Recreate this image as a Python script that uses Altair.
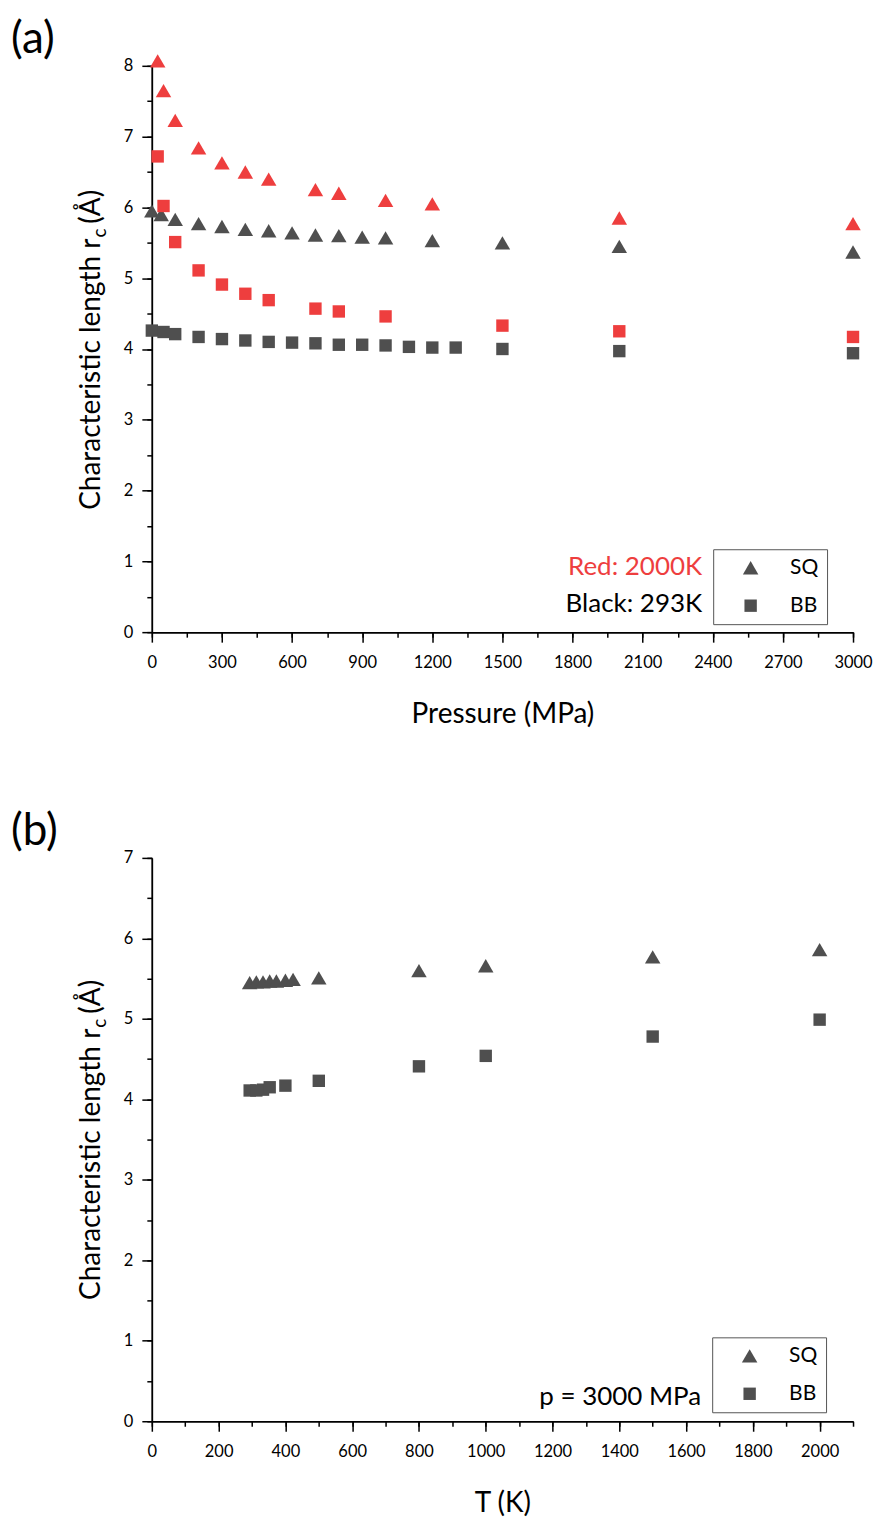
import altair as alt
import pandas as pd

# ---------------- data: panel (a)  (x = pressure, MPa) ----------------
p_sq_293 = [0, 40, 100, 200, 300, 400, 500, 600, 700, 800, 900, 1000, 1200, 1500, 2000, 3000]
rc_sq_293 = [5.95, 5.90, 5.83, 5.77, 5.73, 5.69, 5.67, 5.64, 5.61, 5.60, 5.58, 5.57, 5.53, 5.50, 5.45, 5.37]
p_bb_293 = [0, 50, 100, 200, 300, 400, 500, 600, 700, 800, 900, 1000, 1100, 1200, 1300, 1500, 2000, 3000]
rc_bb_293 = [4.26, 4.24, 4.21, 4.17, 4.14, 4.12, 4.10, 4.09, 4.08, 4.06, 4.06, 4.05, 4.03, 4.02, 4.02, 4.00, 3.97, 3.94]
p_sq_2000 = [25, 50, 100, 200, 300, 400, 500, 700, 800, 1000, 1200, 2000, 3000]
rc_sq_2000 = [8.07, 7.65, 7.23, 6.84, 6.63, 6.50, 6.40, 6.25, 6.20, 6.10, 6.05, 5.85, 5.77]
p_bb_2000 = [25, 50, 100, 200, 300, 400, 500, 700, 800, 1000, 1500, 2000, 3000]
rc_bb_2000 = [6.72, 6.02, 5.51, 5.11, 4.91, 4.78, 4.69, 4.57, 4.53, 4.46, 4.33, 4.25, 4.17]

# ---------------- data: panel (b)  (x = temperature, K) ----------------
t_sq = [293, 313, 333, 353, 373, 400, 423, 500, 800, 1000, 1500, 2000]
rc_sq_t = [5.45, 5.46, 5.46, 5.47, 5.47, 5.48, 5.49, 5.51, 5.60, 5.66, 5.77, 5.86]
t_bb = [293, 313, 333, 353, 400, 500, 800, 1000, 1500, 2000]
rc_bb_t = [4.11, 4.11, 4.12, 4.15, 4.17, 4.23, 4.41, 4.54, 4.78, 4.99]

types = ["SQ", "BB"]
temps = ["293K", "2000K"]
panel_labels = ["(a)", "(b)"]
ytitle_main = "Characteristic length r"
ytitle_sub = "c"
ytitle_tail = "(Å)"
xtitles = ["Pressure (MPa)", "T (K)"]
note_red = "Red: 2000K"
note_black = "Black: 293K"
note_p = "p = 3000 MPa"

RED = "#ee3e3e"
GREY = "#4f4f4f"
FONT = "Lato"
TRI = "M0,-0.86L1,0.86L-1,0.86Z"
SQR = "M-0.8,-0.8H0.8V0.8H-0.8Z"


def frame(xs, ys, typ, temp):
    return pd.DataFrame({"x": xs, "rc": ys, "type": typ, "temp": temp})


df_a = pd.concat([
    frame(p_sq_293, rc_sq_293, "SQ", "293K"),
    frame(p_bb_293, rc_bb_293, "BB", "293K"),
    frame(p_sq_2000, rc_sq_2000, "SQ", "2000K"),
    frame(p_bb_2000, rc_bb_2000, "BB", "2000K"),
], ignore_index=True)

df_b = pd.concat([
    frame(t_sq, rc_sq_t, "SQ", "293K"),
    frame(t_bb, rc_bb_t, "BB", "293K"),
], ignore_index=True)

COMMON = dict(grid=False, domainColor="black", domainWidth=1.5, tickColor="black", tickWidth=1.5)


def major_axis(values, orient, title=None):
    kw = dict(COMMON, values=values, format="d", orient=orient, tickSize=10,
              labelPadding=12 if orient == "bottom" else 9,
              labelOverlap=False, labelFlush=False, labelColor="black",
              labelFont=FONT, labelFontSize=16.5)
    if title is None:
        kw["title"] = None
    else:
        kw.update(title=title, titleFont=FONT, titleFontSize=28, titleFontWeight="normal",
                  titleColor="black", titlePadding=30)
    return alt.Axis(**kw)


def minor_axis(values, orient):
    return alt.Axis(**dict(COMMON, values=values, orient=orient, tickSize=5, labels=False,
                           title=None))


def legend(lx, ly):
    return alt.Legend(
        title=None, orient="none", legendX=lx, legendY=ly,
        strokeColor="#555555", fillColor="white", padding=8,
        symbolSize=240, symbolFillColor=GREY, symbolStrokeColor=GREY, symbolStrokeWidth=0,
        symbolOffset=19, labelOffset=29, rowPadding=16,
        labelFont=FONT, labelFontSize=21, labelColor="black",
    )


def text_layer(label, x, y, size, color="black", align="left", baseline="alphabetic", angle=0):
    kw = dict(align=align, baseline=baseline, fontSize=size, font=FONT, color=color)
    if angle:
        kw["angle"] = angle
    return alt.Chart(pd.DataFrame({"t": [label]})).mark_text(**kw).encode(
        x=alt.value(x), y=alt.value(y), text="t:N"
    )


def ytitle_layers(P):
    return [
        text_layer(ytitle_main, -52, P, 28, align="right", angle=270),
        text_layer(ytitle_sub, -46, P - 1, 19, align="left", angle=270),
        text_layer(ytitle_tail, -52, P - 15, 28, align="left", angle=270),
    ]


def point_layers(df, xdom, xmaj, xmin, xtitle, ymax, lx, ly):
    ymaj = list(range(0, ymax + 1))
    ymin = [i * 0.5 for i in range(ymax * 2 + 1)]
    xs = alt.Scale(domain=xdom, nice=False, zero=False)
    ys = alt.Scale(domain=[0, ymax], nice=False)
    pts = alt.Chart(df).mark_point(filled=True, opacity=1, strokeWidth=0, size=240).encode(
        x=alt.X("x:Q", scale=xs, axis=major_axis(xmaj, "bottom", xtitle)),
        y=alt.Y("rc:Q", scale=ys, axis=major_axis(ymaj, "left")),
        shape=alt.Shape("type:N", scale=alt.Scale(domain=types, range=[TRI, SQR]),
                        legend=legend(lx, ly)),
        color=alt.Color("temp:N", scale=alt.Scale(domain=temps, range=[GREY, RED]), legend=None),
    )
    ghost = alt.Chart(df).mark_point(opacity=0).encode(
        x=alt.X("x:Q", scale=xs, axis=minor_axis(xmin, "bottom")),
        y=alt.Y("rc:Q", scale=ys, axis=minor_axis(ymin, "left")),
    )
    return ghost, pts


ghost_a, pts_a = point_layers(df_a, [0, 3000], list(range(0, 3001, 300)),
                              list(range(0, 3001, 150)), xtitles[0], 8, 562, 484)
panel_a = alt.layer(
    ghost_a,
    pts_a,
    *ytitle_layers(173),
    text_layer(panel_labels[0], -141, -13, 44),
    text_layer(note_red, 551, 502, 26, color=RED, align="right", baseline="middle"),
    text_layer(note_black, 551, 539, 26, align="right", baseline="middle"),
).resolve_axis(x="independent", y="independent").properties(width=702, height=567)

ghost_b, pts_b = point_layers(df_b, [0, 2100], list(range(0, 2001, 200)),
                              list(range(0, 2101, 100)), xtitles[1], 7, 561, 480)
panel_b = alt.layer(
    ghost_b,
    pts_b,
    *ytitle_layers(171),
    text_layer(panel_labels[1], -141, -13, 44),
    text_layer(note_p, 550, 540, 26, align="right", baseline="middle"),
).resolve_axis(x="independent", y="independent").properties(width=702, height=564)

chart = alt.vconcat(panel_a, panel_b, spacing=81).resolve_scale(
    shape="independent", color="independent"
).resolve_legend(shape="independent").properties(
    padding={"left": 3, "top": 9, "right": 0, "bottom": 5}
).configure(font=FONT, view=alt.ViewConfig(stroke=None))

chart.save("out.html", embed_options={"renderer": "svg", "actions": False})
